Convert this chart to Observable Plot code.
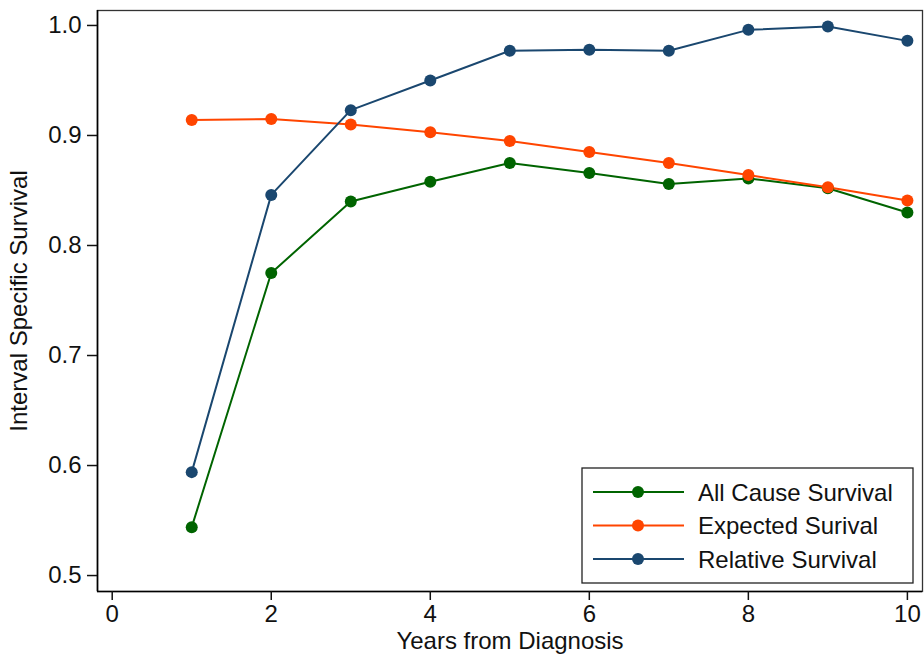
<!DOCTYPE html>
<html>
<head>
<meta charset="utf-8">
<script src="https://cdn.jsdelivr.net/npm/d3@7"></script>
<script src="https://cdn.jsdelivr.net/npm/@observablehq/plot@0.6"></script>
<style>
  html, body { margin: 0; padding: 0; background: #fff; }
  #chart svg { display: block; font-family: "Liberation Sans", Arial, sans-serif; }
</style>
</head>
<body>
<div id="chart"></div>
<script>
const years = [1, 2, 3, 4, 5, 6, 7, 8, 9, 10];
const allCause = [0.544, 0.775, 0.840, 0.858, 0.875, 0.866, 0.856, 0.861, 0.852, 0.830];
const expected = [0.914, 0.915, 0.910, 0.903, 0.895, 0.885, 0.875, 0.864, 0.853, 0.841];
const relative = [0.594, 0.846, 0.923, 0.950, 0.977, 0.978, 0.977, 0.996, 0.999, 0.986];
const seriesNames = ["All Cause Survival", "Expected Surival", "Relative Survival"];
const seriesColors = ["#006400", "#ff4500", "#1a476f"];
const xTicks = [0, 2, 4, 6, 8, 10];
const yTicks = [0.5, 0.6, 0.7, 0.8, 0.9, 1.0];

const seriesValues = [allCause, expected, relative];
const data = [];
seriesNames.forEach((name, i) => {
  years.forEach((yr, j) => data.push({series: name, year: yr, value: seriesValues[i][j]}));
});

function legendMark(index, scales, values, dims) {
  const svg = d3.create("svg:g").attr("text-anchor", "start");
  const x0 = dims.width - dims.marginRight - 340;
  const y0 = dims.height - dims.marginBottom - 123;
  svg.append("rect").attr("x", x0).attr("y", y0).attr("width", 331).attr("height", 115)
    .attr("fill", "white").attr("stroke", "#222").attr("stroke-width", 1.3);
  seriesNames.forEach((name, i) => {
    const cy = y0 + 24 + i * 33.5;
    svg.append("line").attr("x1", x0 + 11).attr("x2", x0 + 102).attr("y1", cy).attr("y2", cy)
      .attr("stroke", scales.color(name)).attr("stroke-width", 2);
    svg.append("circle").attr("cx", x0 + 56).attr("cy", cy).attr("r", 6).attr("fill", scales.color(name));
    svg.append("text").attr("x", x0 + 116).attr("y", cy).attr("dy", "0.36em")
      .attr("text-anchor", "start")
      .attr("font-size", 24).attr("fill", "#111").text(name);
  });
  return svg.node();
}

const chart = Plot.plot({
  width: 924,
  height: 657,
  marginLeft: 97,
  marginRight: 2,
  marginTop: 10,
  marginBottom: 66,
  style: {fontSize: "24px", fontFamily: "Liberation Sans, Arial, sans-serif", color: "#111", background: "white"},
  x: {domain: [-0.185, 10.19]},
  y: {domain: [0.4855, 1.0136]},
  color: {domain: seriesNames, range: seriesColors},
  marks: [
    Plot.frame({stroke: "#333", strokeWidth: 1.3}),
    Plot.ruleX([-0.185], {stroke: "#000", strokeWidth: 1.6}),
    Plot.ruleY([0.4855], {stroke: "#000", strokeWidth: 1.6}),
    Plot.axisX({ticks: xTicks, tickSize: 9, tickPadding: 4, fontSize: 24, strokeWidth: 1.5, tickFormat: d => String(d), label: "Years from Diagnosis", labelAnchor: "center", labelArrow: "none", labelOffset: 57}),
    Plot.axisY({ticks: yTicks, tickSize: 10, tickPadding: 6, fontSize: 24, strokeWidth: 1.5, tickFormat: d3.format(".1f"), label: "Interval Specific Survival", labelAnchor: "center", labelArrow: "none", labelOffset: 88}),
    Plot.line(data, {x: "year", y: "value", z: "series", stroke: "series", strokeWidth: 2}),
    Plot.dot(data, {x: "year", y: "value", fill: "series", r: 6, stroke: "none"}),
    legendMark
  ]
});
document.getElementById("chart").appendChild(chart);
</script>
</body>
</html>
